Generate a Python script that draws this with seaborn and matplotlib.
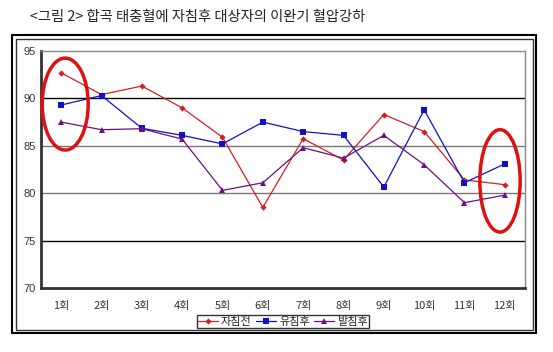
import matplotlib
matplotlib.use("Agg")
import matplotlib.pyplot as plt
import seaborn as sns
import pandas as pd
from matplotlib.patches import Ellipse, Rectangle
from matplotlib.lines import Line2D

sns.set_style("white")
plt.rcParams['font.family'] = ['Noto Sans CJK KR', 'DejaVu Sans']

sessions = ["1회", "2회", "3회", "4회", "5회", "6회", "7회", "8회", "9회", "10회", "11회", "12회"]
before = [92.7, 90.4, 91.3, 89.0, 85.9, 78.5, 85.75, 83.5, 88.3, 86.5, 81.4, 80.9]
retained = [89.3, 90.3, 86.85, 86.1, 85.2, 87.5, 86.5, 86.1, 80.65, 88.8, 81.1, 83.1]
after = [87.5, 86.7, 86.8, 85.7, 80.3, 81.1, 84.8, 83.7, 86.1, 83.0, 79.0, 79.8]
series_names = ["자침전", "유침후", "발침후"]
colors = ["#d42020", "#1010c8", "#6a1080"]
markers = ["D", "s", "^"]
marker_sizes = [3.2, 4.2, 4.2]
yticks = [70, 75, 80, 85, 90, 95]

rows = []
for name, vals in zip(series_names, [before, retained, after]):
    for i, v in enumerate(vals):
        rows.append({"idx": i, "value": v, "series": name})
df = pd.DataFrame(rows)

fig = plt.figure(figsize=(5.53, 3.52), dpi=100)
ax = fig.add_axes([41/553, 1-288/352, 484/553, 237/352])

for name, c, m, ms in zip(series_names, colors, markers, marker_sizes):
    sns.lineplot(data=df[df.series == name], x="idx", y="value", color=c,
                 marker=m, linewidth=0.9, markersize=ms, markeredgewidth=0,
                 sort=False, ax=ax, legend=False)

ax.set_xlim(-0.5, 11.5)
ax.set_ylim(70, 95)
ax.set_yticks(yticks)
ax.set_yticklabels([str(t) for t in yticks], fontsize=8, color="#333333",
                   family=['Liberation Sans', 'DejaVu Sans'])
ax.set_xticks(range(12))
ax.set_xticklabels(sessions, fontsize=8, color="#333333")
ax.set_xticks([i + 0.5 for i in range(-1, 12)], minor=True)
ax.tick_params(axis='x', which='major', length=0, pad=9)
ax.tick_params(axis='x', which='minor', length=3, direction='in', width=1, color='black')
ax.tick_params(axis='y', length=0, pad=4)
ax.set_xlabel("")
ax.set_ylabel("")

for y, c in [(90, "black"), (85, "#777777"), (80, "#777777"), (75, "black")]:
    ax.axhline(y, color=c, lw=1.0, zorder=0)

ax.spines['left'].set_color('#333333')
ax.spines['left'].set_linewidth(2)
ax.spines['bottom'].set_color('#333333')
ax.spines['bottom'].set_linewidth(2)
ax.spines['top'].set_color('#888888')
ax.spines['top'].set_linewidth(1)
ax.spines['right'].set_color('#888888')
ax.spines['right'].set_linewidth(1)

# red hand-drawn circles
for cx, cy, w, h in [(0.1, 89.4, 1.14, 9.7), (10.88, 81.3, 1.0, 10.8)]:
    ax.add_patch(Ellipse((cx, cy), w, h, fill=False, edgecolor="#e01010",
                         lw=2.5, clip_on=False, zorder=5))

# outer double frame
W, H = 553, 352
fig.add_artist(Rectangle((12/W, 1-333/H), (536-12)/W, (333-35)/H, fill=False,
                         edgecolor='black', lw=1.5, transform=fig.transFigure))
fig.add_artist(Rectangle((15.5/W, 1-329.5/H), (532.5-15.5)/W, (329.5-38.5)/H, fill=False,
                         edgecolor='#333333', lw=1.0, transform=fig.transFigure))

# legend
handles = [Line2D([0], [0], color=c, marker=m, lw=0.9, markersize=ms, markeredgewidth=0)
           for c, m, ms in zip(colors, markers, marker_sizes)]
leg = fig.legend(handles, series_names, loc='center', bbox_to_anchor=(283/W, 1-321.5/H),
                 ncol=3, fontsize=8, frameon=True, fancybox=False, edgecolor='black',
                 handlelength=1.8, handletextpad=0.25, columnspacing=0.4,
                 borderpad=0.15, borderaxespad=0)
leg.get_frame().set_linewidth(1.0)

fig.text(30/W, 1-17/H, "<그림 2> 합곡 태충혈에 자침후 대상자의 이완기 혈압강하",
         fontsize=10.3, va='center', ha='left', color='#222222')

fig.savefig("out.png", dpi=100)
